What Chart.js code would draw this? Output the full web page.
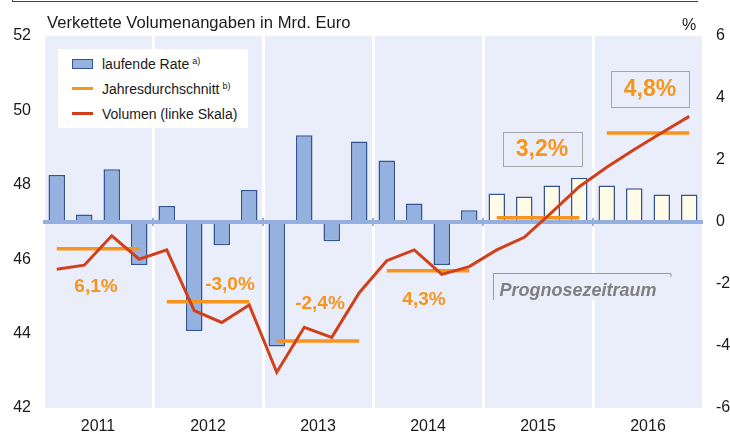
<!DOCTYPE html>
<html>
<head>
<meta charset="utf-8">
<script src="https://cdn.jsdelivr.net/npm/chart.js@4/dist/chart.umd.min.js"></script>
<style>
  body { margin: 0; background: #fff; font-family: "Liberation Sans", Arial, sans-serif; }
  #wrap { position: relative; width: 730px; height: 433px; overflow: hidden; }
  #chart { position: absolute; left: 0; top: 0; }
  .txt { position: absolute; font-size: 16px; color: #1a1a1a; white-space: nowrap; line-height: 1; }
  #frame { position: absolute; left: 12px; top: -10px; width: 685px; height: 11px;
           border-left: 1px solid #444; border-bottom: 1px solid #444; }
  #legend { position: absolute; left: 58px; top: 49px; width: 190px; height: 79px; background: #fff; }
  .item { position: absolute; left: 44px; font-size: 14px; color: #1a1a1a; line-height: 1; white-space: nowrap; }
  .item sup { font-size: 9px; vertical-align: 5px; margin-left: 3px; }
  .sw { position: absolute; left: 14px; }
</style>
</head>
<body>
<div id="wrap">
  <canvas id="chart" width="730" height="433"></canvas>
  <div id="frame"></div>
  <div class="txt" style="left:47px; top:15px; font-size:16.6px;">Verkettete Volumenangaben in Mrd. Euro</div>
  <div class="txt" style="left:682px; top:17px;">%</div>
  <div id="legend">
    <div class="sw" style="top:10px; width:19px; height:8px; background:#95b1e0; border:1px solid #34558f;"></div>
    <div class="item" style="top:8px;">laufende Rate<sup>a)</sup></div>
    <div class="sw" style="top:38px; width:21px; height:3px; background:#f7941d;"></div>
    <div class="item" style="top:33px;">Jahresdurchschnitt<sup>b)</sup></div>
    <div class="sw" style="top:63px; width:21px; height:3px; background:#d1401a;"></div>
    <div class="item" style="top:58px;">Volumen (linke Skala)</div>
  </div>
</div>
<script>
  const years = ['2011', '2012', '2013', '2014', '2015', '2016'];
  const quarters = years.flatMap(y => ['Q1', 'Q2', 'Q3', 'Q4'].map(q => q + ' ' + y));

  // laufende Rate, % (rechte Skala)
  const rate = [1.52, 0.24, 1.70, -1.39, 0.52, -3.52, -0.75, 1.03,
                -4.02, 2.80, -0.62, 2.60, 1.98, 0.60, -1.39, 0.38,
                0.92, 0.82, 1.18, 1.43, 1.18, 1.09, 0.89, 0.89];
  // Jahresdurchschnitt, % (rechte Skala)
  const annualAvg = [-0.86, -2.57, -3.84, -1.57, 0.14, 2.87];
  // Volumen, Mrd. Euro (linke Skala)
  const volume = [45.73, 45.84, 46.63, 46.00, 46.25, 44.62, 44.30, 44.77,
                  42.96, 44.17, 43.90, 45.10, 45.96, 46.25, 45.59, 45.80,
                  46.25, 46.59, 47.26, 47.95, 48.47, 48.95, 49.40, 49.84];
  const growthLabels = ['6,1%', '-3,0%', '-2,4%', '4,3%', '3,2%', '4,8%'];
  const forecastFrom = 16;
  const leftTicks = [42, 44, 46, 48, 50, 52];
  const rightTicks = [-6, -4, -2, 0, 2, 4, 6];

  const BG = '#eaeefa';
  const ORANGE = '#f7941d';
  const font = '"Liberation Sans", Arial, sans-serif';

  // label placement relative to the year centre / annual line
  const labelPos = [
    { dx: -2, dy: 37, size: 19 },
    { dx: 22, dy: -18, size: 19 },
    { dx: 2, dy: -38, size: 19 },
    { dx: -4, dy: 28, size: 19 },
    { dx: 4, dy: -69, size: 23, box: [79, 34] },
    { dx: 2, dy: -44, size: 23, box: [78, 36] }
  ];

  const backdrop = {
    id: 'backdrop',
    beforeDraw(chart) {
      const { ctx, chartArea: a } = chart;
      ctx.save();
      ctx.fillStyle = BG;
      ctx.fillRect(a.left, a.top, a.right - a.left, a.bottom - a.top);
      ctx.restore();
    },
    afterDatasetDraw(chart, args) {
      if (args.index !== 0) return;
      const { ctx, chartArea: a, scales } = chart;
      const y0 = scales.yR.getPixelForValue(0);
      ctx.save();
      ctx.fillStyle = '#95b0df';
      ctx.fillRect(a.left, y0 - 2, a.right - a.left, 4);
      for (let i = 1; i < years.length; i++) {
        const x = (scales.xY.getPixelForValue(i - 1) + scales.xY.getPixelForValue(i)) / 2;
        ctx.fillRect(x - 1, y0 - 4, 2, 8);
      }
      ctx.restore();
    },
    afterDraw(chart) {
      const { ctx, chartArea: a, scales } = chart;
      ctx.save();
      ctx.textAlign = 'center';
      ctx.textBaseline = 'middle';
      growthLabels.forEach((t, i) => {
        const p = labelPos[i];
        const x = scales.xY.getPixelForValue(i) + p.dx;
        const y = scales.yR.getPixelForValue(annualAvg[i]) + p.dy;
        if (p.box) {
          ctx.strokeStyle = '#a6a6a6';
          ctx.lineWidth = 1;
          ctx.strokeRect(Math.round(x - p.box[0] / 2) + 0.5, Math.round(y - p.box[1] / 2) + 0.5, p.box[0], p.box[1]);
        }
        ctx.fillStyle = ORANGE;
        ctx.font = 'bold ' + p.size + 'px ' + font;
        ctx.fillText(t, x, y + 1);
      });

      // Prognosezeitraum
      const bx = (scales.xY.getPixelForValue(3) + scales.xY.getPixelForValue(4)) / 2 + 10;
      const by = a.top + 237;
      ctx.fillStyle = BG;
      ctx.fillRect(bx, by, 178, 27);
      ctx.strokeStyle = '#9a9a9a';
      ctx.lineWidth = 1;
      ctx.beginPath();
      ctx.moveTo(bx + 0.5, by + 27);
      ctx.lineTo(bx + 0.5, by + 0.5);
      ctx.lineTo(bx + 178, by + 0.5);
      ctx.lineTo(bx + 178, by + 4);
      ctx.stroke();
      ctx.fillStyle = '#7f7f7f';
      ctx.font = 'italic bold 18px ' + font;
      ctx.fillText('Prognosezeitraum', bx + 85, by + 18);
      ctx.restore();
    }
  };

  new Chart(document.getElementById('chart'), {
    data: {
      labels: quarters,
      datasets: [
        {
          type: 'bar',
          label: 'laufende Rate',
          data: rate,
          yAxisID: 'yR',
          backgroundColor: rate.map((v, i) => i >= forecastFrom ? '#fffbe7' : '#95b1e0'),
          borderColor: '#34558f',
          borderWidth: 1.5,
          barPercentage: 0.6,
          categoryPercentage: 1,
          order: 3
        },
        {
          type: 'line',
          label: 'Jahresdurchschnitt',
          data: annualAvg.flatMap(v => [v, v, v, v]),
          yAxisID: 'yR',
          borderColor: ORANGE,
          borderWidth: 3.5,
          borderCapStyle: 'butt',
          pointRadius: 0,
          segment: {
            borderColor: c => Math.floor(c.p0DataIndex / 4) === Math.floor(c.p1DataIndex / 4) ? ORANGE : 'transparent'
          },
          order: 2
        },
        {
          type: 'line',
          label: 'Volumen (linke Skala)',
          data: volume,
          yAxisID: 'yL',
          borderColor: '#d1401a',
          borderWidth: 3,
          pointRadius: 0,
          tension: 0,
          order: 1
        }
      ]
    },
    options: {
      responsive: false,
      animation: false,
      devicePixelRatio: 1,
      layout: { padding: { top: 36 } },
      plugins: { legend: { display: false }, tooltip: { enabled: false } },
      scales: {
        x: { type: 'category', display: false, offset: true },
        xY: {
          type: 'category',
          labels: years,
          position: 'bottom',
          offset: true,
          grid: { offset: true, color: '#ffffff', lineWidth: 3, drawTicks: false },
          border: { display: false },
          ticks: { color: '#1a1a1a', font: { size: 16, family: font }, padding: 9, maxRotation: 0 },
          afterFit: s => { s.height = 25; }
        },
        yL: {
          position: 'left',
          min: 42, max: 52,
          afterBuildTicks: s => { s.ticks = leftTicks.map(v => ({ value: v })); },
          grid: { display: false, drawTicks: false },
          border: { display: false },
          ticks: { color: '#1a1a1a', font: { size: 16, family: font }, padding: 12 },
          afterFit: s => { s.width = 43; }
        },
        yR: {
          position: 'right',
          min: -6, max: 6,
          afterBuildTicks: s => { s.ticks = rightTicks.map(v => ({ value: v })); },
          grid: { display: false, drawTicks: false },
          border: { display: false },
          ticks: { color: '#1a1a1a', font: { size: 16, family: font }, padding: 13 },
          afterFit: s => { s.width = 27; }
        }
      }
    },
    plugins: [backdrop]
  });
</script>
</body>
</html>
